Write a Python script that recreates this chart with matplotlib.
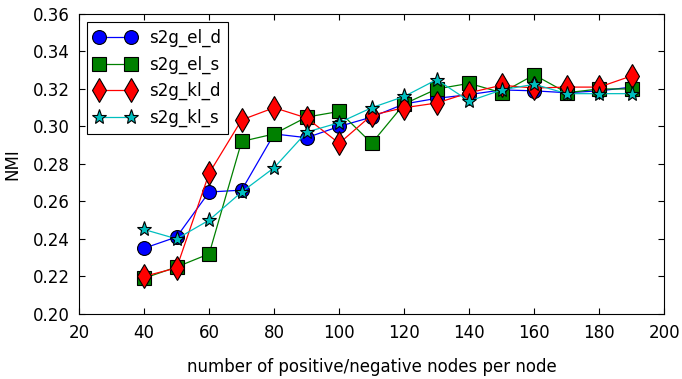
import matplotlib
matplotlib.use("Agg")
import matplotlib.pyplot as plt

nodes = [40, 50, 60, 70, 80, 90, 100, 110, 120, 130, 140, 150, 160, 170, 180, 190]

el_d = [0.235, 0.241, 0.265, 0.266, 0.296, 0.294, 0.300, 0.305, 0.312, 0.315, 0.317, 0.3195, 0.319, 0.318, 0.319, 0.321]
el_s = [0.219, 0.225, 0.232, 0.292, 0.296, 0.305, 0.308, 0.291, 0.312, 0.320, 0.323, 0.318, 0.3275, 0.318, 0.320, 0.320]
kl_d = [0.220, 0.2245, 0.275, 0.3035, 0.310, 0.3045, 0.291, 0.306, 0.310, 0.3125, 0.318, 0.322, 0.3205, 0.321, 0.321, 0.327]
kl_s = [0.245, 0.240, 0.250, 0.265, 0.278, 0.297, 0.302, 0.310, 0.316, 0.325, 0.3135, 0.3195, 0.3225, 0.3175, 0.3175, 0.3175]

fig = plt.figure(figsize=(6.82, 3.79), dpi=100)
ax = fig.add_axes([0.116, 0.172, 0.858, 0.791])

ax.plot(nodes, el_d, color="b", marker="o", markersize=10, label="s2g_el_d")
ax.plot(nodes, el_s, color="g", marker="s", markersize=10, label="s2g_el_s")
ax.plot(nodes, kl_d, color="r", marker="d", markersize=12, label="s2g_kl_d")
ax.plot(nodes, kl_s, color="c", marker="*", markersize=11, label="s2g_kl_s")
for line in ax.lines:
    line.set_markeredgecolor("k")
    line.set_markeredgewidth(0.8)
    line.set_linewidth(0.9)

ax.set_xlim(20, 200)
ax.set_ylim(0.20, 0.36)
ax.set_xticks(range(20, 201, 20))
ax.set_yticks([0.20 + 0.02 * i for i in range(9)])
ax.set_yticklabels(["%.2f" % (0.20 + 0.02 * i) for i in range(9)])
ax.tick_params(direction="in", top=True, right=True, labelsize=12, length=4, pad=7)

ax.set_xlabel("number of positive/negative nodes per node", fontsize=12, labelpad=12)
ax.set_ylabel("NMI", fontsize=12, labelpad=8)

leg = ax.legend(loc="upper left", numpoints=2, fontsize=12, fancybox=False,
                framealpha=1, edgecolor="k", borderaxespad=0.5, handlelength=2.5)
leg.get_frame().set_linewidth(0.8)

fig.savefig("out.png", dpi=100, facecolor="white")
